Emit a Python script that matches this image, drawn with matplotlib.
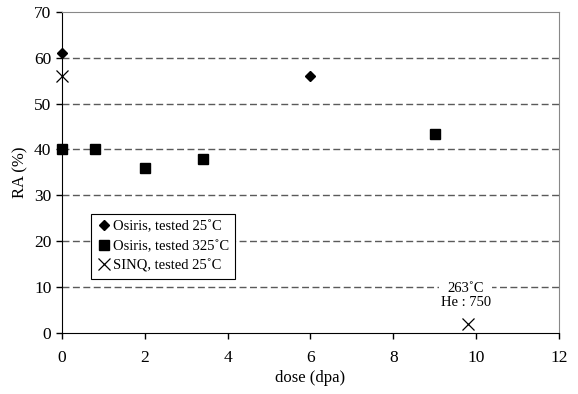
import matplotlib
matplotlib.use("Agg")
import matplotlib.pyplot as plt

plt.rcParams['font.family'] = ['Liberation Serif', 'DejaVu Serif']

# RA measurements vs irradiation dose
osiris25_dose = [0, 6]
osiris25_ra = [61, 56]
osiris325_dose = [0, 0.8, 2, 3.4, 9]
osiris325_ra = [40, 40, 36, 38, 43.3]
sinq_dose = [0, 9.8]
sinq_ra = [56, 2]

fig = plt.figure(figsize=(5.78, 3.94), dpi=100)
ax = fig.add_axes([0.107, 0.155, 0.86, 0.815])

for y in range(10, 70, 10):
    ax.axhline(y, color='#5a5a5a', linestyle=(0, (5, 2.5)), linewidth=1.0, zorder=1)

ax.plot(osiris25_dose, osiris25_ra, linestyle='none', marker='D', markersize=5.5,
        color='black', label='Osiris, tested 25\u02daC', zorder=3, clip_on=False)
ax.plot(osiris325_dose, osiris325_ra, linestyle='none', marker='s', markersize=7,
        color='black', label='Osiris, tested 325\u02daC', zorder=3, clip_on=False)
ax.plot(sinq_dose, sinq_ra, linestyle='none', marker='x', markersize=9,
        markeredgewidth=0.9, color='black', label='SINQ, tested 25\u02daC',
        zorder=3, clip_on=False)

ax.text(9.75, 8.2, '263\u02daC\nHe : 750', ha='center', va='center', fontsize=10.5,
        linespacing=1.15, zorder=2,
        bbox=dict(facecolor='white', edgecolor='none', pad=1.0))

ax.set_xlim(0, 12)
ax.set_ylim(0, 70)
ax.set_xticks(range(0, 13, 2))
ax.set_yticks(range(0, 71, 10))
ax.tick_params(direction='out', length=4, labelsize=12.5, width=1)
ax.tick_params(axis='x', pad=8)
ax.set_xlabel('dose (dpa)', fontsize=12, labelpad=3)
ax.set_ylabel('RA (%)', fontsize=12)

ax.spines['left'].set_color('black')
ax.spines['bottom'].set_color('black')
ax.spines['top'].set_color('#888888')
ax.spines['right'].set_color('#888888')

leg = ax.legend(loc='upper left', bbox_to_anchor=(0.058, 0.371), borderaxespad=0,
                fontsize=10.5, frameon=True, fancybox=False, edgecolor='black',
                framealpha=1, handletextpad=0.15, handlelength=0.9, borderpad=0.45,
                labelspacing=0.42)
leg.get_frame().set_linewidth(0.8)

fig.savefig('out.png', dpi=100)
